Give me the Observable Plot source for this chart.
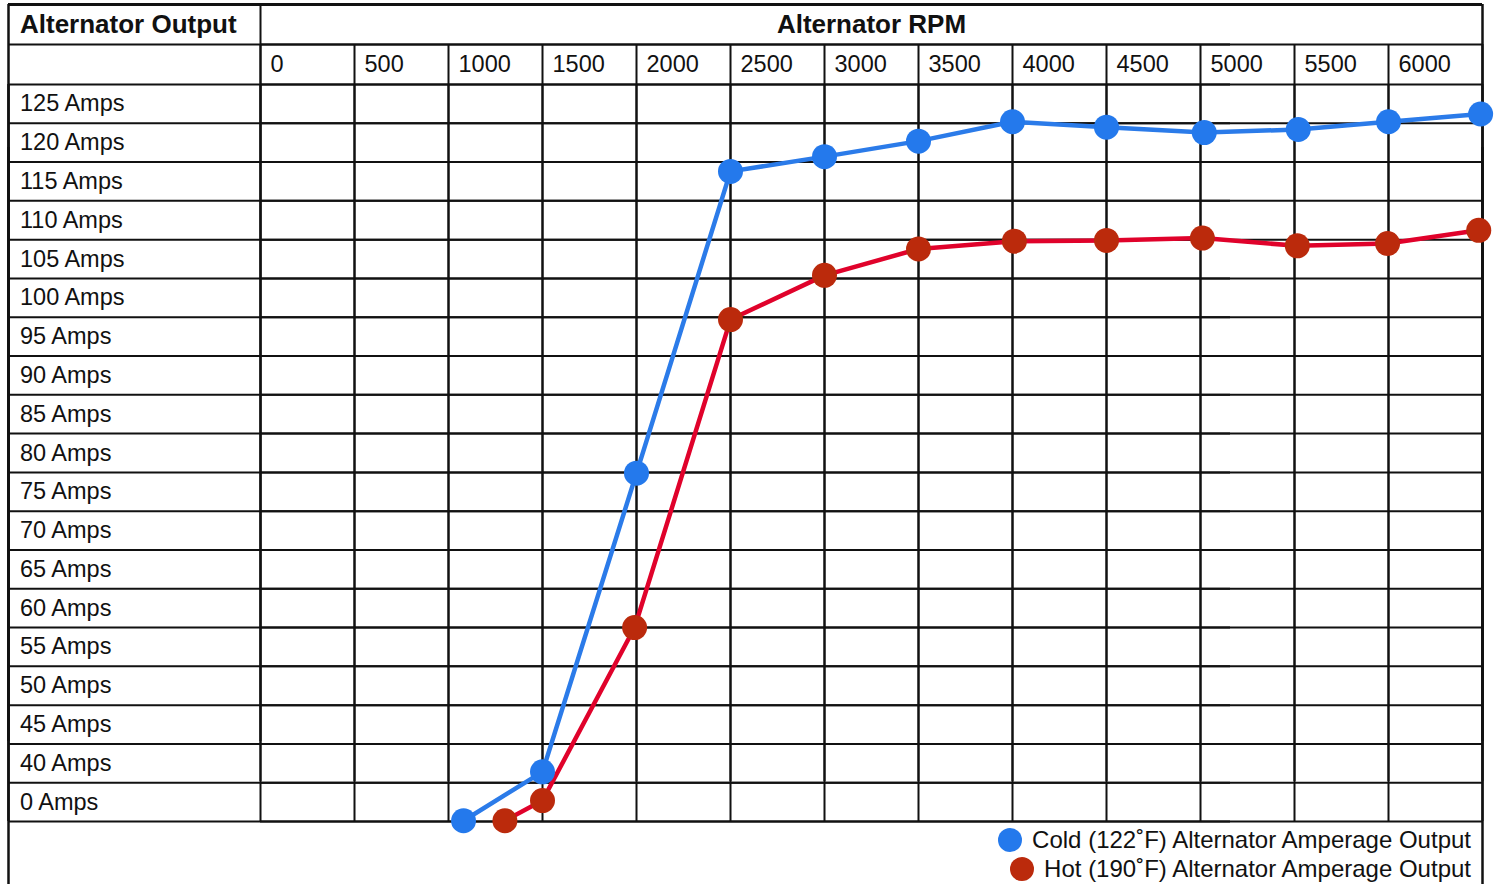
<!DOCTYPE html>
<html>
<head>
<meta charset="utf-8">
<script src="https://cdn.jsdelivr.net/npm/d3@7"></script>
<script src="https://cdn.jsdelivr.net/npm/@observablehq/plot@0.6"></script>
<style>
  html, body { margin: 0; padding: 0; background: #fff; }
  #wrap { position: relative; width: 1497px; height: 884px; overflow: hidden; font-family: "Liberation Sans", Arial, sans-serif; }
  #legend { position: absolute; right: 26px; top: 825px; font-size: 24px; color: #111; }
  #legend .item { display: flex; justify-content: flex-end; align-items: center; height: 29px; white-space: nowrap; }
  #legend .dot { width: 24px; height: 24px; border-radius: 50%; margin-right: 10px; flex: none; }
</style>
</head>
<body>
<div id="wrap"><div id="legend"></div></div>
<script>
// ---- data ----
const rpmTicks = [0, 500, 1000, 1500, 2000, 2500, 3000, 3500, 4000, 4500, 5000, 5500, 6000];
const colEdges = [0, 500, 1000, 1500, 2000, 2500, 3000, 3500, 4000, 4500, 5000, 5500, 6000, 6500];
const ampTicks = [125, 120, 115, 110, 105, 100, 95, 90, 85, 80, 75, 70, 65, 60, 55, 50, 45, 40, 35];
const ampLabels = ["125 Amps", "120 Amps", "115 Amps", "110 Amps", "105 Amps", "100 Amps", "95 Amps", "90 Amps",
  "85 Amps", "80 Amps", "75 Amps", "70 Amps", "65 Amps", "60 Amps", "55 Amps", "50 Amps", "45 Amps", "40 Amps", "0 Amps"];

const coldRpm  = [1080, 1500, 2000, 2500, 3000, 3500, 4000, 4500, 5020, 5520, 6000, 6490];
const coldAmps = [32.6, 38.9, 77.4, 116.3, 118.2, 120.2, 122.7, 122.0, 121.3, 121.7, 122.7, 123.7];
const hotRpm   = [1300, 1500, 1990, 2500, 3000, 3500, 4010, 4500, 5010, 5515, 5995, 6480];
const hotAmps  = [32.6, 35.2, 57.5, 97.2, 102.9, 106.3, 107.3, 107.4, 107.7, 106.7, 107.0, 108.7];

const seriesNames = ["Cold (122˚F) Alternator Amperage Output", "Hot (190˚F) Alternator Amperage Output"];
const seriesDot = ["#2479ec", "#bb2a0c"];
const seriesLine = ["#2b7be9", "#e0022b"];

const headerLeft = "Alternator Output";
const headerTop = "Alternator RPM";

// ---- build ----
(function () {
const cold = coldRpm.map((r, i) => ({rpm: r, amps: coldAmps[i]}));
const hot = hotRpm.map((r, i) => ({rpm: r, amps: hotAmps[i]}));
const rowEdges = ampTicks.map(v => v + 2.5).concat([ampTicks[ampTicks.length - 1] - 2.5]);
const labelRows = ampTicks.map((v, i) => ({v, label: ampLabels[i]}));
const topEdge = rowEdges[0];
const first = colEdges[0], last = colEdges[colEdges.length - 1];

const ink = "#111";
const sw = 2;
const fontFamily = "'Liberation Sans', Arial, sans-serif";

const chart = Plot.plot({
  width: 1497,
  height: 884,
  marginLeft: 260,
  marginRight: 15,
  marginTop: 84,
  marginBottom: 63,
  style: {fontFamily, background: "white", color: ink},
  x: {domain: [first, last], axis: null},
  y: {domain: [rowEdges[rowEdges.length - 1], topEdge], axis: null},
  marks: [
    // horizontal grid lines (plot area + row label column)
    Plot.ruleY(rowEdges, {stroke: ink, strokeWidth: sw}),
    Plot.ruleY(rowEdges, {stroke: ink, strokeWidth: sw, dx: -252}),
    // header horizontal lines
    Plot.ruleY([topEdge], {stroke: ink, strokeWidth: sw, dy: -40}),
    Plot.ruleY([topEdge], {stroke: ink, strokeWidth: sw, dy: -40, dx: -252}),
    Plot.ruleY([topEdge], {stroke: ink, strokeWidth: 3, dy: -80}),
    Plot.ruleY([topEdge], {stroke: ink, strokeWidth: 3, dy: -80, dx: -252}),
    // vertical column lines
    Plot.ruleX(colEdges, {stroke: ink, strokeWidth: sw}),
    Plot.ruleX(colEdges, {stroke: ink, strokeWidth: sw, dy: -40}),
    Plot.ruleX([first], {stroke: ink, strokeWidth: sw, dy: -80}),
    // right outer border
    Plot.ruleX([last], {stroke: ink, strokeWidth: 2.5, dy: -80}),
    Plot.ruleX([last], {stroke: ink, strokeWidth: 2.5, dy: 63}),
    // left outer border
    Plot.ruleX([first], {stroke: ink, strokeWidth: 2.5, dx: -252, dy: -80}),
    Plot.ruleX([first], {stroke: ink, strokeWidth: 2.5, dx: -252}),
    Plot.ruleX([first], {stroke: ink, strokeWidth: 2.5, dx: -252, dy: 63}),
    // header texts
    Plot.text([headerLeft], {frameAnchor: "top-left", lineAnchor: "middle", dx: -240.5, dy: -60, text: d => d, textAnchor: "start", fontSize: 26, fontWeight: "bold", fill: ink}),
    Plot.text([headerTop], {frameAnchor: "top", lineAnchor: "middle", dy: -60, text: d => d, fontSize: 26, fontWeight: "bold", fill: ink}),
    // rpm labels
    Plot.text(rpmTicks, {x: d => d, frameAnchor: "top", lineAnchor: "middle", dy: -20, dx: 10, text: d => String(d), textAnchor: "start", fontSize: 23.5, fill: ink}),
    // amp row labels
    Plot.text(labelRows, {y: "v", frameAnchor: "left", lineAnchor: "middle", dx: -240.5, text: "label", textAnchor: "start", fontSize: 23.5, fill: ink}),
    // series
    Plot.line(hot, {x: "rpm", y: "amps", stroke: seriesLine[1], strokeWidth: 4.5}),
    Plot.line(cold, {x: "rpm", y: "amps", stroke: seriesLine[0], strokeWidth: 4.5}),
    Plot.dot(hot, {x: "rpm", y: "amps", r: 12.5, fill: seriesDot[1]}),
    Plot.dot(cold, {x: "rpm", y: "amps", r: 12.5, fill: seriesDot[0]})
  ]
});

const wrap = document.getElementById("wrap");
wrap.insertBefore(chart, wrap.firstChild);

const legend = document.getElementById("legend");
seriesNames.forEach((name, i) => {
  const item = document.createElement("div");
  item.className = "item";
  const dot = document.createElement("span");
  dot.className = "dot";
  dot.style.background = seriesDot[i];
  const label = document.createElement("span");
  label.textContent = name;
  item.appendChild(dot);
  item.appendChild(label);
  legend.appendChild(item);
});
})();
</script>
</body>
</html>
